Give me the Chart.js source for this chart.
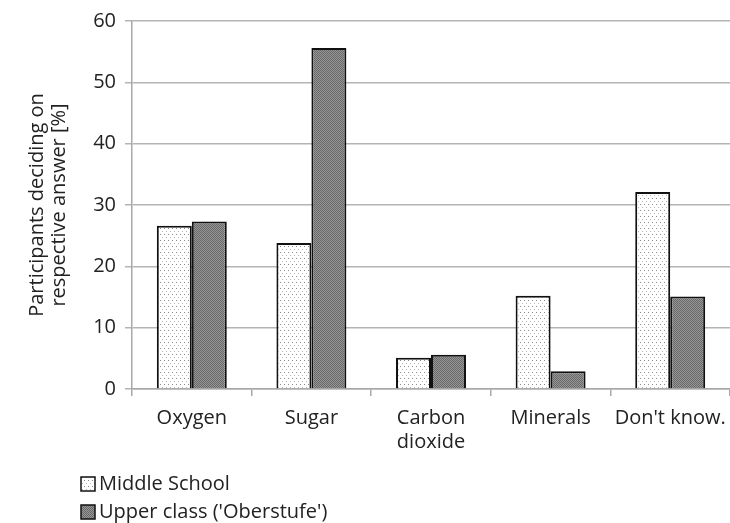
<!DOCTYPE html>
<html>
<head>
<meta charset="utf-8">
<script src="https://cdn.jsdelivr.net/npm/chart.js@4/dist/chart.umd.min.js"></script>
<style>
  html, body { margin: 0; padding: 0; background: #fff; overflow: hidden; }
  #wrap { width: 730px; height: 523px; }
</style>
</head>
<body>
<div id="wrap"><canvas id="c" width="730" height="523"></canvas></div>
<script>
// Answers given, with multi-line category labels
const categories = ['Oxygen', 'Sugar', ['Carbon', 'dioxide'], 'Minerals', "Don't know."];
const seriesNames = ['Middle School', "Upper class ('Oberstufe')"];
const middleSchool = [26.6, 23.8, 5.1, 15.2, 32.1];
const upperClass = [27.3, 55.6, 5.6, 2.9, 15.1];
const yTicks = [0, 10, 20, 30, 40, 50, 60];

const FONT = '"Open Sans", "DejaVu Sans", sans-serif';
const TEXT = '#222';
const SIZE = 20;

// Fill patterns: sparse dots on white, and a fine stipple on grey
function makePattern(kind) {
  const p = document.createElement('canvas');
  const g = p.getContext('2d');
  if (kind === 'light') {
    p.width = 4; p.height = 6;
    g.fillStyle = '#fff'; g.fillRect(0, 0, 4, 6);
    g.fillStyle = '#8a8a8a'; g.fillRect(0, 0, 1, 1);
    g.fillStyle = '#b8b8b8'; g.fillRect(2, 3, 1, 1);
  } else {
    p.width = 2; p.height = 2;
    g.fillStyle = '#979797'; g.fillRect(0, 0, 2, 2);
    g.fillStyle = '#686868'; g.fillRect(0, 0, 1, 1); g.fillRect(1, 1, 1, 1);
  }
  return g.createPattern(p, 'repeat');
}
const lightFill = makePattern('light');
const darkFill = makePattern('dark');

// Legend stacked vertically beneath the axis labels
const stackedLegend = {
  id: 'stackedLegend',
  afterDraw(chart) {
    const ctx = chart.ctx;
    const x0 = 81, rows = [484, 512];
    ctx.save();
    ctx.font = SIZE + 'px ' + FONT;
    ctx.textBaseline = 'middle';
    chart.data.datasets.forEach((ds, i) => {
      const y = rows[i];
      ctx.fillStyle = ds.backgroundColor;
      ctx.fillRect(x0, y - 7, 14, 14);
      ctx.lineWidth = 1.5;
      ctx.strokeStyle = '#111';
      ctx.strokeRect(x0, y - 7, 14, 14);
      ctx.fillStyle = TEXT;
      ctx.fillText(ds.label, x0 + 18, y);
    });
    ctx.restore();
  }
};

new Chart(document.getElementById('c'), {
  type: 'bar',
  data: {
    labels: categories,
    datasets: [
      { label: seriesNames[0], data: middleSchool, backgroundColor: lightFill,
        borderColor: '#111', borderWidth: 2, borderSkipped: 'bottom' },
      { label: seriesNames[1], data: upperClass, backgroundColor: darkFill,
        borderColor: '#111', borderWidth: 2, borderSkipped: 'bottom' }
    ]
  },
  options: {
    responsive: false,
    animation: false,
    devicePixelRatio: 1,
    layout: { padding: { top: 19, right: 0, bottom: 70, left: 0 } },
    datasets: { bar: { categoryPercentage: 0.585, barPercentage: 1.0 } },
    plugins: {
      legend: { display: false },
      tooltip: { enabled: false }
    },
    scales: {
      x: {
        afterFit(axis) { axis.height = 64; axis.paddingLeft = 0; axis.paddingRight = 0; },
        grid: { display: true, drawOnChartArea: false, drawTicks: true, offset: true,
                color: '#a8a8a8', lineWidth: 1.5, tickLength: 7 },
        border: { display: true, color: '#a8a8a8', width: 1.5 },
        ticks: { color: TEXT, font: { family: FONT, size: SIZE, lineHeight: 1.2 }, padding: 10, maxRotation: 0 }
      },
      y: {
        min: 0, max: 60,
        afterFit(axis) { axis.width = 132; },
        afterBuildTicks(axis) { axis.ticks = yTicks.map(v => ({ value: v })); },
        grid: { color: '#b4b4b4', lineWidth: 1.5, drawTicks: true, tickLength: 7 },
        border: { display: true, color: '#a8a8a8', width: 1.5 },
        ticks: { color: TEXT, font: { family: FONT, size: SIZE }, padding: 9 },
        title: {
          display: true,
          text: ['Participants deciding on', 'respective answer [%]'],
          color: TEXT, font: { family: FONT, size: SIZE, lineHeight: 1.1 }, padding: { top: 26, bottom: 0 }
        }
      }
    }
  },
  plugins: [stackedLegend]
});
</script>
</body>
</html>
